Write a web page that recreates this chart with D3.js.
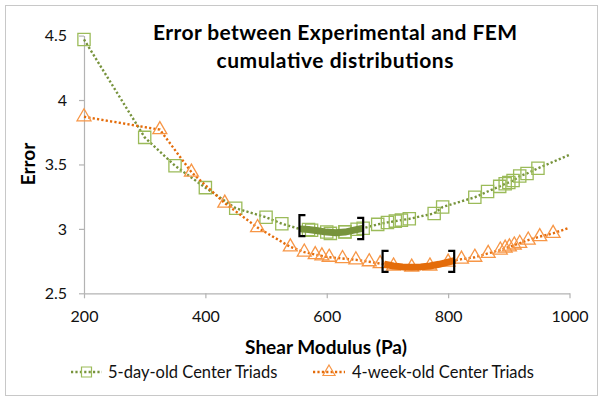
<!DOCTYPE html>
<html><head><meta charset="utf-8">
<script src="https://cdn.jsdelivr.net/npm/d3@7"></script>
<style>body{margin:0;background:#fff}svg{display:block}</style>
</head><body><svg id="c" width="604" height="401"></svg>
<script>
// ---- data ----
const titleLines = ["Error between Experimental and FEM", "cumulative distributions"];
const xTicks = [200, 400, 600, 800, 1000];
const yTicks = [2.5, 3, 3.5, 4, 4.5];
const seriesNames = ["5-day-old Center Triads", "4-week-old Center Triads"];

// 5-day-old (green squares)
const greenX = [200, 300, 350, 400, 450, 500, 526, 575, 606, 630, 650, 684, 700, 713, 723, 736, 777, 791, 844, 865, 885, 894, 900, 907, 918, 930, 948];
const greenY = [4.47, 3.71, 3.49, 3.32, 3.16, 3.09, 3.04, 2.99, 2.965, 2.978, 2.997, 3.035, 3.05, 3.06, 3.068, 3.078, 3.12, 3.17, 3.245, 3.29, 3.33, 3.35, 3.36, 3.375, 3.41, 3.43, 3.47];
const greenBandX = [555, 570, 585, 600, 615, 630, 645, 660];
const greenBandY = [3.0, 2.995, 2.985, 2.975, 2.97, 2.975, 2.99, 3.005];
const greenEnd = [1000, 3.575];
const greenBracketX = [555, 660];
const greenBracketY = [3.025, 3.003];

// 4-week-old (orange triangles)
const orangeX = [200, 325, 377, 432, 486, 540, 563, 581, 592, 604, 626, 648, 670, 688, 822, 844, 866, 886, 894, 901, 909, 918, 932, 951, 973];
const orangeY = [3.87, 3.77, 3.44, 3.20, 3.01, 2.86, 2.82, 2.80, 2.79, 2.78, 2.77, 2.76, 2.745, 2.73, 2.765, 2.78, 2.81, 2.836, 2.85, 2.86, 2.875, 2.888, 2.913, 2.94, 2.965];
const orangeBandX = [695, 710, 725, 740, 755, 770, 785, 800, 812];
const orangeBandY = [2.725, 2.712, 2.705, 2.703, 2.705, 2.712, 2.725, 2.742, 2.755];
const orangeEnd = [1000, 3.01];
const orangeBracketX = [692, 810];
const orangeBracketY = [2.748, 2.748];
const bracketHalf = 0.082;

// ---- styles ----
const GREEN_LINE = "#77933c", GREEN_MK = "#9bbb59";
const ORANGE_LINE = "#e46c0a", ORANGE_MK = "#f79646";
const FONT = "Lato, 'Open Sans', sans-serif";

const svg = d3.select("#c");
svg.append("rect").attr("x", 5.5).attr("y", 5.5).attr("width", 592).attr("height", 390)
  .attr("fill", "#fff").attr("stroke", "#c8c8c8").attr("stroke-width", 1);

const x = d3.scaleLinear().domain([200, 1000]).range([84, 569.5]);
const y = d3.scaleLinear().domain([2.5, 4.5]).range([293.3, 35.6]);

// axes
const xAxis = svg.append("g").attr("transform", `translate(0,${y(2.5)})`)
  .call(d3.axisBottom(x).tickValues(xTicks).tickSize(5).tickSizeOuter(0).tickPadding(12).tickFormat(d3.format("d")));
const yAxis = svg.append("g").attr("transform", `translate(${x(200)},0)`)
  .call(d3.axisLeft(y).tickValues(yTicks).tickSize(5).tickSizeOuter(0).tickPadding(12).tickFormat(d => String(d)));
[xAxis, yAxis].forEach(g => {
  g.select(".domain").attr("stroke", "#b3b3b3").attr("stroke-width", 1.2);
  g.selectAll(".tick line").attr("stroke", "#b3b3b3").attr("stroke-width", 1.2);
  g.selectAll(".tick text").attr("font-family", FONT).attr("font-size", 16).attr("fill", "#111");
});

// title
svg.append("text").attr("x", 335).attr("y", 40).attr("text-anchor", "middle")
  .attr("font-family", FONT).attr("font-weight", "bold").attr("font-size", 21).attr("fill", "#000")
  .attr("textLength", 364).attr("lengthAdjust", "spacing").text(titleLines[0]);
svg.append("text").attr("x", 335).attr("y", 68).attr("text-anchor", "middle")
  .attr("font-family", FONT).attr("font-weight", "bold").attr("font-size", 21).attr("fill", "#000")
  .attr("textLength", 237).attr("lengthAdjust", "spacing").text(titleLines[1]);

// axis titles
svg.append("text").attr("x", 326).attr("y", 354).attr("text-anchor", "middle")
  .attr("font-family", FONT).attr("font-weight", "bold").attr("font-size", 19).attr("fill", "#000").text("Shear Modulus (Pa)");
svg.append("text").attr("transform", "translate(35,164) rotate(-90)").attr("text-anchor", "middle")
  .attr("font-family", FONT).attr("font-weight", "bold").attr("font-size", 19).attr("fill", "#000").text("Error");

const line = d3.line().x(d => x(d[0])).y(d => y(d[1]));
const sq = d3.symbol().type(d3.symbolSquare).size(150);
const tri = d3.symbol().type(d3.symbolTriangle).size(84);

function series(xs, ys, bx, by, end, lineCol, mkCol, sym) {
  const pts = xs.map((v, i) => [v, ys[i]]).concat(bx.map((v, i) => [v, by[i]]), [end]).sort((a, b) => a[0] - b[0]);
  const g = svg.append("g");
  g.append("path").attr("d", line(pts)).attr("fill", "none").attr("stroke", lineCol)
    .attr("stroke-width", 2.4).attr("stroke-dasharray", "2.2 2.2");
  const mk = xs.map((v, i) => [v, ys[i]]).concat(bx.filter((_, i) => i % 2 === 1).map(v => [v, by[bx.indexOf(v)]]));
  g.selectAll("path.mk").data(mk).join("path").attr("class", "mk")
    .attr("d", sym).attr("transform", d => `translate(${x(d[0])},${y(d[1])})`)
    .attr("fill", "none").attr("stroke", mkCol).attr("stroke-width", 1.3);
  return g;
}
function band(bx, by, col) {
  svg.append("path").attr("d", line(bx.map((v, i) => [v, by[i]]))).attr("fill", "none")
    .attr("stroke", col).attr("stroke-width", 7).attr("stroke-linecap", "butt").attr("stroke-linejoin", "round");
}
function brackets(bx, by) {
  const w = 6;
  bx.forEach((v, i) => {
    const px = x(v), top = y(by[i] + bracketHalf), bot = y(by[i] - bracketHalf);
    const dir = i === 0 ? 1 : -1;
    svg.append("path").attr("d", `M${px + dir * w},${top}H${px}V${bot}H${px + dir * w}`)
      .attr("fill", "none").attr("stroke", "#000").attr("stroke-width", 2.2);
  });
}

series(greenX, greenY, greenBandX, greenBandY, greenEnd, GREEN_LINE, GREEN_MK, sq);
series(orangeX, orangeY, orangeBandX, orangeBandY, orangeEnd, ORANGE_LINE, ORANGE_MK, tri);
band(greenBandX, greenBandY, GREEN_LINE);
band(orangeBandX, orangeBandY, ORANGE_LINE);
brackets(greenBracketX, greenBracketY);
brackets(orangeBracketX, orangeBracketY);

// legend
const sqL = d3.symbol().type(d3.symbolSquare).size(100);
const triL = d3.symbol().type(d3.symbolTriangle).size(64);
const legend = [
  {name: seriesNames[0], x0: 71, x1: 102, text: 108, lc: GREEN_LINE, mc: GREEN_MK, sym: sqL},
  {name: seriesNames[1], x0: 313, x1: 345, text: 352, lc: ORANGE_LINE, mc: ORANGE_MK, sym: triL}
];
const ly = 372;
legend.forEach(l => {
  svg.append("line").attr("x1", l.x0).attr("x2", l.x1).attr("y1", ly).attr("y2", ly)
    .attr("stroke", l.lc).attr("stroke-width", 2.4).attr("stroke-dasharray", "2.2 2.2");
  svg.append("path").attr("d", l.sym).attr("transform", `translate(${(l.x0 + l.x1) / 2},${ly})`)
    .attr("fill", "none").attr("stroke", l.mc).attr("stroke-width", 1.2);
  svg.append("text").attr("x", l.text).attr("y", ly + 6).attr("font-family", FONT).attr("font-size", 16.5)
    .attr("fill", "#111").text(l.name);
});
</script></body></html>
